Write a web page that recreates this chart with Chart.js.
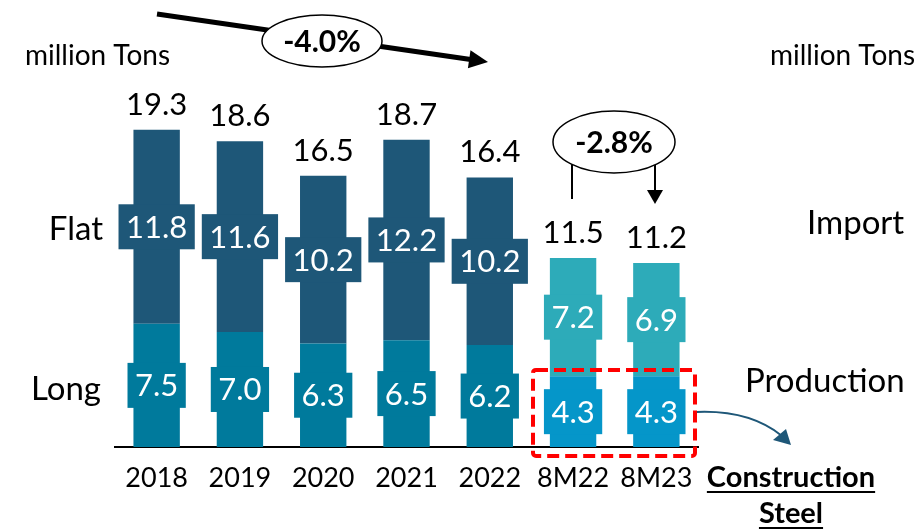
<!DOCTYPE html>
<html>
<head>
<meta charset="utf-8">
<script src="https://cdn.jsdelivr.net/npm/chart.js@4"></script>
<style>
  html, body { margin: 0; padding: 0; background: #fff; }
  canvas { display: block; }
</style>
</head>
<body>
<canvas id="steelChart" width="914" height="531"></canvas>
<script>
// Data
const categories = ['2018', '2019', '2020', '2021', '2022', '8M22', '8M23'];
const longValues = [7.5, 7.0, 6.3, 6.5, 6.2, 4.3, 4.3];
const flatValues = [11.8, 11.6, 10.2, 12.2, 10.2, 7.2, 6.9];
const totalValues = [19.3, 18.6, 16.5, 18.7, 16.4, 11.5, 11.2];

// Colours: yearly bars vs 8-month bars
const longColors = ['#007A9C', '#007A9C', '#007A9C', '#007A9C', '#007A9C', '#0596C9', '#0596C9'];
const flatColors = ['#1E5778', '#1E5778', '#1E5778', '#1E5778', '#1E5778', '#2DABB9', '#2DABB9'];

Chart.defaults.font.family = 'Lato';
Chart.defaults.color = '#000';

// Draws the boxed values inside bars and the totals on top
const barLabels = {
  id: 'barLabels',
  afterDatasetsDraw(chart) {
    const ctx = chart.ctx;
    ctx.save();
    ctx.font = '31px Lato';
    ctx.textAlign = 'center';
    ctx.textBaseline = 'middle';
    chart.data.datasets.forEach((ds, di) => {
      const meta = chart.getDatasetMeta(di);
      meta.data.forEach((bar, i) => {
        const text = ds.data[i].toFixed(1);
        const cy = (bar.y + bar.base) / 2;
        const w = ctx.measureText(text).width + 15;
        const h = 45;
        ctx.fillStyle = ds.backgroundColor[i];
        ctx.fillRect(bar.x - w / 2, cy - h / 2, w, h);
        ctx.fillStyle = '#fff';
        ctx.fillText(text, bar.x, cy + 1);
      });
    });
    // totals
    const top = chart.getDatasetMeta(1);
    ctx.fillStyle = '#000';
    ctx.textBaseline = 'alphabetic';
    top.data.forEach((bar, i) => {
      ctx.fillText(totalValues[i].toFixed(1), bar.x, bar.y - 15);
    });
    ctx.restore();
  }
};

// Arrows, ellipses, side texts and the construction steel box
const annotations = {
  id: 'annotations',
  afterDraw(chart) {
    const ctx = chart.ctx;
    ctx.save();

    // left and right side texts
    ctx.fillStyle = '#000';
    ctx.font = '28px Lato';
    ctx.textAlign = 'left';
    ctx.textBaseline = 'alphabetic';
    ctx.fillText('million Tons', 25, 65);
    ctx.fillText('million Tons', 770, 65);
    ctx.font = '33px Lato';
    ctx.textAlign = 'right';
    ctx.textBaseline = 'middle';
    ctx.fillText('Flat', 103, 229);
    ctx.fillText('Long', 101, 389);
    ctx.textAlign = 'left';
    ctx.fillText('Import', 807, 223);
    ctx.fillText('Production', 745, 381);

    // -4.0% trend arrow
    ctx.strokeStyle = '#000';
    ctx.fillStyle = '#000';
    ctx.lineWidth = 5;
    const ax0 = 157, ay0 = 14, ax1 = 488, ay1 = 62;
    const ang = Math.atan2(ay1 - ay0, ax1 - ax0);
    ctx.beginPath();
    ctx.moveTo(ax0, ay0);
    ctx.lineTo(ax1 - 14 * Math.cos(ang), ay1 - 14 * Math.sin(ang));
    ctx.stroke();
    ctx.beginPath();
    ctx.moveTo(ax1, ay1);
    ctx.lineTo(ax1 - 19 * Math.cos(ang) + 9 * Math.sin(ang), ay1 - 19 * Math.sin(ang) - 9 * Math.cos(ang));
    ctx.lineTo(ax1 - 19 * Math.cos(ang) - 9 * Math.sin(ang), ay1 - 19 * Math.sin(ang) + 9 * Math.cos(ang));
    ctx.closePath();
    ctx.fill();

    function pill(cx, cy, rx, ry, text) {
      ctx.beginPath();
      ctx.ellipse(cx, cy, rx, ry, 0, 0, Math.PI * 2);
      ctx.fillStyle = '#fff';
      ctx.fill();
      ctx.lineWidth = 1.5;
      ctx.strokeStyle = '#000';
      ctx.stroke();
      ctx.fillStyle = '#000';
      ctx.font = 'bold 30px Lato';
      ctx.textAlign = 'center';
      ctx.textBaseline = 'middle';
      ctx.fillText(text, cx, cy + 1);
    }
    pill(322, 41, 60, 26, '-4.0%');

    // -2.8% bracket
    ctx.lineWidth = 2;
    ctx.strokeStyle = '#000';
    ctx.beginPath();
    ctx.moveTo(572, 160);
    ctx.lineTo(572, 199);
    ctx.moveTo(655, 160);
    ctx.lineTo(655, 192);
    ctx.stroke();
    ctx.fillStyle = '#000';
    ctx.beginPath();
    ctx.moveTo(647, 190);
    ctx.lineTo(663, 190);
    ctx.lineTo(655, 204);
    ctx.closePath();
    ctx.fill();
    pill(614, 142, 61, 31, '-2.8%');

    // red dashed box around construction steel
    ctx.strokeStyle = '#FF0000';
    ctx.lineWidth = 4;
    ctx.setLineDash([12, 6]);
    ctx.beginPath();
    ctx.roundRect(533, 370, 162, 86, 3);
    ctx.stroke();
    ctx.setLineDash([]);

    // curved arrow to the label
    ctx.strokeStyle = '#1E5778';
    ctx.fillStyle = '#1E5778';
    ctx.lineWidth = 2;
    ctx.beginPath();
    ctx.moveTo(697, 412);
    ctx.quadraticCurveTo(750, 410, 782, 436);
    ctx.stroke();
    ctx.beginPath();
    ctx.moveTo(791, 445);
    ctx.lineTo(773, 440);
    ctx.lineTo(786, 429);
    ctx.closePath();
    ctx.fill();

    // Construction Steel label
    ctx.fillStyle = '#000';
    ctx.font = 'bold 29px Lato';
    ctx.textAlign = 'center';
    ctx.textBaseline = 'alphabetic';
    const lines = [['Construction', 487], ['Steel', 523]];
    ctx.lineWidth = 2;
    ctx.strokeStyle = '#000';
    lines.forEach(([t, by]) => {
      ctx.fillText(t, 791, by);
      const w = ctx.measureText(t).width;
      ctx.beginPath();
      ctx.moveTo(791 - w / 2, by + 5);
      ctx.lineTo(791 + w / 2, by + 5);
      ctx.stroke();
    });

    ctx.restore();
  }
};

const ctx = document.getElementById('steelChart').getContext('2d');

const steelChart = new Chart(ctx, {
  type: 'bar',
  data: {
    labels: categories,
    datasets: [
      {
        label: 'Long',
        data: longValues,
        backgroundColor: longColors,
        barPercentage: 0.557,
        categoryPercentage: 1.0
      },
      {
        label: 'Flat',
        data: flatValues,
        backgroundColor: flatColors,
        barPercentage: 0.557,
        categoryPercentage: 1.0
      }
    ]
  },
  options: {
    responsive: false,
    animation: false,
    layout: {
      padding: { left: 115, right: 216, top: 0, bottom: 0 }
    },
    plugins: {
      legend: { display: false },
      tooltip: { enabled: false }
    },
    scales: {
      x: {
        stacked: true,
        grid: { display: false, drawTicks: false },
        border: { display: true, color: '#000', width: 2 },
        ticks: {
          color: '#000',
          font: { size: 27 },
          padding: 15,
          maxRotation: 0,
          autoSkip: false
        },
        afterFit(scale) {
          scale.height = 84;
        }
      },
      y: {
        stacked: true,
        display: false,
        min: 0,
        max: 27.2
      }
    }
  },
  plugins: [barLabels, annotations]
});
</script>
</body>
</html>
